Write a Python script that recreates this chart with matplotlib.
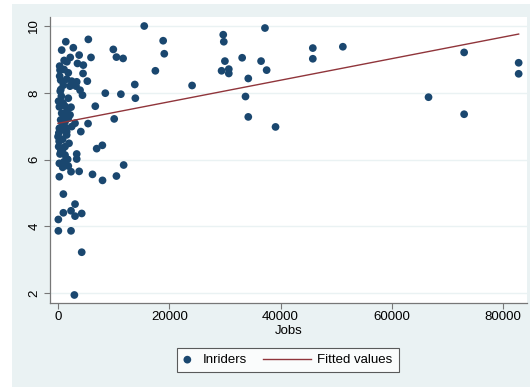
import numpy as np
import matplotlib.pyplot as plt
from matplotlib.patches import Rectangle
from matplotlib.legend_handler import HandlerPathCollection, HandlerLine2D

plt.rcParams['font.family'] = ['Liberation Sans', 'DejaVu Sans']

# Jobs (x) and Inriders (y), one entry per observation
jobs = [
    15500, 18900, 19100, 17500, 24100, 29700, 29800, 30000, 29400, 30700, 30700,
    33100, 33700, 34200, 34200, 36500, 37200, 37500, 39100, 45800, 45800, 51200,
    66600, 73000, 73000, 82800, 82800,
    5450, 5930, 5270, 6700, 5400, 4100, 8500, 9940, 10500, 11700, 11300, 10100,
    13800, 13900, 6950, 7970, 11800, 10500, 8000, 6200, 3800,
    1400, 660, 2750, 3800, 2200, 1100, 1600, 3500, 4550, 360, 1080, 4500, 1850,
    480, 1560, 2460, 3360, 960, 2160, 3240, 3960, 4400, 1850,
    240, 1260, 2340, 660, 1560, 2160, 480, 1260, 1850, 3060, 2460,
    240, 960, 1560, 0, 840, 1560, 120, 1260, 1980, 360, 1260, 3360, 3360,
    240, 1080, 1740, 840, 1850, 2340, 240, 960,
    60, 960, 2340, 3060, 3060, 4260, 60, 2340, 4260, 2940,
    100, 400, 700, 200, 500, 300, 900, 150,
    600, 1200, 300, 800, 1400, 500,
]
inriders = [
    10.00, 9.56, 9.17, 8.66, 8.22, 9.74, 9.53, 8.95, 8.66, 8.71, 8.58,
    9.05, 7.89, 8.43, 7.28, 8.95, 9.94, 8.68, 6.98, 9.34, 9.02, 9.38,
    7.87, 9.21, 7.36, 8.90, 8.57,
    9.60, 9.06, 8.35, 7.60, 7.08, 6.84, 7.99, 9.30, 9.07, 9.03, 7.96, 7.22,
    8.25, 7.84, 6.33, 6.43, 5.84, 5.51, 5.38, 5.56, 5.65,
    9.53, 9.28, 9.35, 9.13, 9.06, 8.97, 8.93, 8.88, 8.83, 8.68, 8.70, 8.58, 8.60,
    8.38, 8.41, 8.35, 8.33, 8.23, 8.20, 8.20, 8.08, 7.93, 7.84,
    7.58, 7.60, 7.57, 7.39, 7.43, 7.34, 7.19, 7.13, 7.24, 7.09, 6.99,
    6.94, 6.89, 6.84, 6.69, 6.61, 6.74, 6.39, 6.39, 6.49, 6.17, 6.14, 6.17, 6.02,
    5.89, 5.94, 6.01, 5.77, 5.81, 5.64, 5.49, 4.97,
    4.21, 4.41, 4.47, 4.67, 4.31, 4.39, 3.87, 3.87, 3.23, 1.95,
    7.75, 8.05, 7.00, 6.55, 6.25, 8.50, 7.70, 6.80,
    7.90, 7.30, 8.80, 6.30, 6.95, 8.10,
]

x = np.array(jobs, dtype=float)
y = np.array(inriders)

# linear fit for the "Fitted values" line
slope, intercept = np.polyfit(x, y, 1)
xfit = np.array([x.min(), x.max()])
yfit = intercept + slope * xfit


class DotHandler(HandlerPathCollection):
    # marker sits near the left of its key box
    def get_xdata(self, legend, xdescent, ydescent, width, height, fontsize):
        xd = [-xdescent + 0.3 * fontsize]
        return xd, xd


class LongLineHandler(HandlerLine2D):
    # line key reaches back into the column gap
    def create_artists(self, legend, orig_handle, xdescent, ydescent,
                       width, height, fontsize, trans):
        extra = 2.7 * fontsize
        return super().create_artists(legend, orig_handle, xdescent + extra,
                                      ydescent, width + extra, height,
                                      fontsize, trans)


W, H = 530, 387
fig = plt.figure(figsize=(W / 100, H / 100), dpi=100)
fig.patch.set_facecolor('white')
fig.patches.append(Rectangle((12 / W, 0), (W - 12) / W, (H - 4) / H,
                             transform=fig.transFigure, facecolor='#eaf2f3',
                             edgecolor='none', zorder=-5))

ax = fig.add_axes([50 / W, (H - 303) / H, 477 / W, 286 / H])
ax.set_facecolor('white')

sc = ax.scatter(x, y, s=31, color='#1a476f', edgecolors='none', zorder=3,
                label='Inriders')
ln, = ax.plot(xfit, yfit, color='#90353b', lw=1.0, zorder=4,
              label='Fitted values')

ax.set_xlim(-1440, 84300)
ax.set_ylim(1.71, 10.27)
ax.set_xticks([0, 20000, 40000, 60000, 80000])
ax.set_yticks([2, 4, 6, 8, 10])
ax.grid(axis='y', color='#eaf2f3', lw=1.0, zorder=0)
ax.grid(axis='x', visible=False)
ax.set_axisbelow(True)

for side in ['top', 'right']:
    ax.spines[side].set_visible(False)
for side in ['left', 'bottom']:
    ax.spines[side].set_color('#777777')
    ax.spines[side].set_linewidth(0.9)

ax.tick_params(axis='both', colors='#777777', length=4, width=0.8,
               labelcolor='black', labelsize=9.5)
for lab in ax.get_yticklabels():
    lab.set_rotation(90)
    lab.set_va('center')
ax.tick_params(axis='x', pad=2)
ax.tick_params(axis='y', pad=3)

ax.set_xlabel('Jobs', fontsize=9.5, labelpad=1)

leg = fig.legend([sc, ln], ['Inriders', 'Fitted values'], loc='center',
                 bbox_to_anchor=(288 / W, 1 - 360 / H), ncol=2,
                 fontsize=9.5, frameon=True, fancybox=False, handlelength=1.0,
                 columnspacing=3.9, handletextpad=0.45, borderpad=0.45,
                 scatterpoints=1,
                 handler_map={type(sc): DotHandler(), type(ln): LongLineHandler()})
leg.get_frame().set_edgecolor('#333333')
leg.get_frame().set_linewidth(0.8)
leg.legend_handles[0].set_sizes([31])

fig.savefig('out.png', dpi=100)
